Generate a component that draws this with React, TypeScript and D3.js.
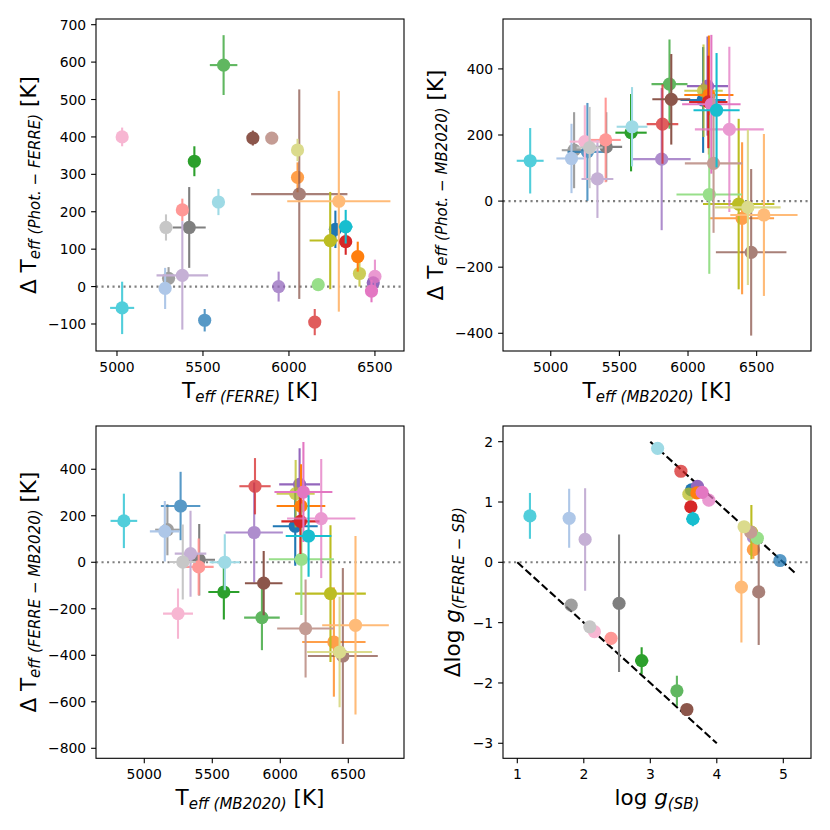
import React from 'react';
import * as d3 from 'd3';

// ---------- star styling (tab20 based) ----------
const starColors = [
  '#7f7f7f', '#17becf', '#1f77b4', '#aec7e8', '#2ca02c', '#9467bd', '#ff7f0e', '#8c564b', '#d62728', '#7f7f7f',
  '#ff9896', '#1f77b4', '#9467bd', '#bcbd22', '#ff7f0e', '#ffbb78', '#2ca02c', '#98df8a', '#d62728', '#e377c2',
  '#e377c2', '#c5b0d5', '#8c564b', '#c49c94', '#f7b6d2', '#c7c7c7', '#bcbd22', '#dbdb8d', '#17becf', '#9edae5',
];
const starAlpha = [
  0.75, 0.75, 0.75, 1, 0.75, 0.75, 0.75, 0.75, 0.75, 1,
  1, 1, 1, 0.75, 1, 1, 1, 1, 1, 1,
  0.75, 1, 1, 1, 1, 1, 1, 1, 1, 1,
];
const drawOrder = [0, 1, 2, 3, 4, 5, 6, 7, 8, 9, 10, 11, 26, 12, 13, 14, 15, 16, 17, 18, 19, 20, 21, 22, 23, 24, 25, 27, 28, 29];

// ---------- data ----------
const teffFerre = [5300, 5030, 5510, 5280, 5620, 5940, 6050, 6060, 6150, 5420, 5380, 6270, 6490, 6410, 6400, 6290, 5450, 6170, 6330, 6480, 6500, 5380, 5790, 5900, 5030, 5285, 6240, 6050, 6330, 5590];
const errTeffFerre = [8, 70, 8, 30, 80, 8, 30, 280, 8, 96, 8, 25, 15, 8, 8, 300, 8, 15, 8, 8, 15, 150, 8, 5, 5, 5, 120, 8, 40, 8];
const dPhotFerre = [22, -57, -90, -5, 592, 0, 292, 247, -95, 158, 205, 153, 10, 35, 80, 228, 335, 5, 120, -12, 27, 30, 397, 397, 400, 158, 123, 365, 160, 226];
const errDPhotFerre = [30, 70, 30, 55, 80, 40, 40, 280, 35, 108, 30, 50, 15, 35, 40, 295, 40, 15, 35, 30, 45, 145, 20, 5, 25, 35, 130, 30, 45, 35];

const teffMB = [5170, 4850, 5267, 5151, 5865, 5808, 6394, 6460, 5814, 5404, 5400, 6110, 6142, 6113, 6152, 6553, 5585, 6155, 6148, 6170, 6301, 5340, 5878, 6186, 5248, 5283, 6369, 6436, 6208, 5592];
const errTeffMB = [90, 98, 145, 110, 131, 211, 233, 257, 115, 116, 110, 165, 150, 140, 179, 245, 114, 239, 140, 213, 251, 116, 138, 209, 110, 95, 260, 239, 168, 112];
const dPhotMB = [154, 122, 149, 129, 354, 127, -52, -155, 233, 164, 185, 306, 348, 334, 321, -42, 207, 20, 300, 293, 217, 67, 308, 114, 180, 162, -9, -19, 275, 225];
const errDPhotMB = [115, 99, 148, 105, 135, 215, 230, 252, 120, 105, 128, 160, 150, 140, 180, 245, 117, 240, 140, 210, 250, 118, 137, 210, 110, 123, 258, 235, 173, 120];
const dFerreMB = [140, 178, 242, 133, -238, 128, -343, -403, 327, 11, -20, 155, 335, 295, 242, -271, -128, 13, 176, 302, 188, 37, -90, -285, -221, 1, -135, -386, 113, 0];
const errDFerreMB = [110, 117, 147, 130, 140, 215, 235, 378, 121, 154, 122, 170, 155, 145, 180, 384, 118, 240, 140, 215, 256, 185, 138, 211, 108, 161, 294, 238, 175, 120];

const loggSB = [1.81, 1.19, 4.95, 1.78, 3.40, 4.55, 4.55, 4.63, 3.46, 2.53, 2.41, 3.62, 3.71, 3.58, 3.70, 4.37, 2.87, 4.61, 3.61, 3.78, 3.88, 2.02, 3.55, 4.51, 2.16, 2.09, 4.52, 4.41, 3.64, 3.11];
const errLoggSB = [0.05, 0.03, 0.03, 0.03, 0.03, 0.03, 0.03, 0.03, 0.03, 0.05, 0.05, 0.03, 0.03, 0.03, 0.03, 0.03, 0.1, 0.03, 0.03, 0.03, 0.03, 0.03, 0.03, 0.03, 0.03, 0.03, 0.03, 0.03, 0.1, 0.03];
const dLogg = [-0.71, 0.77, 0.03, 0.73, -2.13, 0.42, 0.21, -0.49, 1.51, -0.68, -1.26, 1.20, 1.26, 1.13, 1.15, -0.41, -1.63, 0.40, 0.92, 1.16, 1.03, 0.38, -2.44, 0.50, -1.15, -1.07, 0.50, 0.59, 0.72, 1.89];
const errDLogg = [0.05, 0.38, 0.05, 0.49, 0.25, 0.05, 0.15, 0.88, 0.05, 1.14, 0.1, 0.05, 0.05, 0.05, 0.08, 0.92, 0.22, 0.05, 0.05, 0.05, 0.1, 0.85, 0.07, 0.05, 0.05, 0.05, 0.45, 0.05, 0.12, 0.05];

// ---------- axes ----------
const teffTicks = [5000, 5500, 6000, 6500];
const p1YTicks = [-100, 0, 100, 200, 300, 400, 500, 600, 700];
const p2YTicks = [-400, -200, 0, 200, 400];
const p3YTicks = [-800, -600, -400, -200, 0, 200, 400];
const p4XTicks = [1, 2, 3, 4, 5];
const p4YTicks = [-3, -2, -1, 0, 1, 2];
const p1XDom = [4878, 6669];
const p1YDom = [-172.2, 715.2];
const p2XDom = [4652, 6896];
const p2YDom = [-453.6, 551];
const p3XDom = [4645, 6909.6];
const p3YDom = [-843, 586];
const p4XDom = [0.785, 5.4165];
const p4YDom = [-3.249, 2.26];
// one-to-one reference lines in the logg panel (Δlog g = const − log g)
const refLines = [
  [[3.0, 2.0], [5.2, -0.2]],
  [[1.0, 0.0], [4.0, -3.0]],
];

const FONT = 'DejaVu Sans';
const LBL = 21.5;
const SUB = 15;
const TICK = 13.9;

type Box = { l: number; r: number; t: number; b: number };

function fmt(v: number) {
  return String(v).replace('-', '\u2212');
}

function Panel(props: {
  id: string;
  box: Box;
  xDom: number[];
  yDom: number[];
  xTicks: number[];
  yTicks: number[];
  xs: number[];
  xe: number[];
  ys: number[];
  ye: number[];
  xLabel: React.ReactNode;
  yLabel: React.ReactNode;
  ylx: number;
  xly: number;
  lines?: number[][][];
}) {
  const { id, box, xDom, yDom, xTicks, yTicks, xs, xe, ys, ye, xLabel, yLabel, ylx, xly, lines } = props;
  const x = d3.scaleLinear().domain(xDom).range([box.l, box.r]);
  const y = d3.scaleLinear().domain(yDom).range([box.b, box.t]);
  const lineGen = d3.line<number[]>().x((d) => x(d[0])).y((d) => y(d[1]));
  const cx = (box.l + box.r) / 2;
  const cy = (box.t + box.b) / 2;
  return (
    <g>
      <defs>
        <clipPath id={id}>
          <rect x={box.l} y={box.t} width={box.r - box.l} height={box.b - box.t} />
        </clipPath>
      </defs>
      <g clipPath={`url(#${id})`}>
        <line x1={box.l} x2={box.r} y1={y(0)} y2={y(0)} stroke="#808080" strokeWidth={2.1} strokeDasharray="2.1,3.4" />
        {(lines || []).map((seg, k) => (
          <path key={k} d={lineGen(seg) || ''} fill="none" stroke="#000" strokeWidth={2.1} strokeDasharray="7.7,3.3" />
        ))}
        {drawOrder.map((i) => (
          <g key={i} opacity={starAlpha[i]}>
            <line x1={x(xs[i] - xe[i])} x2={x(xs[i] + xe[i])} y1={y(ys[i])} y2={y(ys[i])} stroke={starColors[i]} strokeWidth={2.1} />
            <line x1={x(xs[i])} x2={x(xs[i])} y1={y(ys[i] - ye[i])} y2={y(ys[i] + ye[i])} stroke={starColors[i]} strokeWidth={2.1} />
            <circle cx={x(xs[i])} cy={y(ys[i])} r={6.6} fill={starColors[i]} />
          </g>
        ))}
      </g>
      <rect x={box.l} y={box.t} width={box.r - box.l} height={box.b - box.t} fill="none" stroke="#000" strokeWidth={1.1} />
      {xTicks.map((t) => (
        <g key={'x' + t}>
          <line x1={x(t)} x2={x(t)} y1={box.b} y2={box.b + 4.9} stroke="#000" strokeWidth={1.1} />
          <text x={x(t)} y={box.b + 20.5} textAnchor="middle" fontSize={TICK} fontFamily={FONT}>{fmt(t)}</text>
        </g>
      ))}
      {yTicks.map((t) => (
        <g key={'y' + t}>
          <line x1={box.l} x2={box.l - 4.9} y1={y(t)} y2={y(t)} stroke="#000" strokeWidth={1.1} />
          <text x={box.l - 9.8} y={y(t) + 5} textAnchor="end" fontSize={TICK} fontFamily={FONT}>{fmt(t)}</text>
        </g>
      ))}
      <text x={cx} y={xly} textAnchor="middle" fontSize={LBL} fontFamily={FONT}>{xLabel}</text>
      <text transform={`translate(${ylx},${cy}) rotate(-90)`} textAnchor="middle" fontSize={LBL} fontFamily={FONT}>{yLabel}</text>
    </g>
  );
}

function teffLabel(sub: string, delta: boolean) {
  return (
    <>
      <tspan>{delta ? '\u0394 T' : 'T'}</tspan>
      <tspan fontSize={SUB} fontStyle="italic" dy={4}>{sub}</tspan>
      <tspan dy={-4}>{' [K]'}</tspan>
    </>
  );
}

export default function App() {
  return (
    <svg width={830} height={830} style={{ position: 'absolute', left: 0, top: 0, background: '#fff' }}>
      <rect x={0} y={0} width={830} height={830} fill="#fff" />
      <Panel
        id="c1"
        box={{ l: 96, r: 404, t: 19, b: 351 }}
        xDom={p1XDom}
        yDom={p1YDom}
        xTicks={teffTicks}
        yTicks={p1YTicks}
        xs={teffFerre}
        xe={errTeffFerre}
        ys={dPhotFerre}
        ye={errDPhotFerre}
        xLabel={teffLabel('eff (FERRE)', false)}
        yLabel={teffLabel('eff (Phot. \u2212 FERRE)', true)}
        ylx={36}
        xly={398}
      />
      <Panel
        id="c2"
        box={{ l: 503, r: 811, t: 19, b: 351 }}
        xDom={p2XDom}
        yDom={p2YDom}
        xTicks={teffTicks}
        yTicks={p2YTicks}
        xs={teffMB}
        xe={errTeffMB}
        ys={dPhotMB}
        ye={errDPhotMB}
        xLabel={teffLabel('eff (MB2020)', false)}
        yLabel={teffLabel('eff (Phot. \u2212 MB2020)', true)}
        ylx={443}
        xly={398}
      />
      <Panel
        id="c3"
        box={{ l: 96, r: 404, t: 426, b: 758.3 }}
        xDom={p3XDom}
        yDom={p3YDom}
        xTicks={teffTicks}
        yTicks={p3YTicks}
        xs={teffMB}
        xe={errTeffMB}
        ys={dFerreMB}
        ye={errDFerreMB}
        xLabel={teffLabel('eff (MB2020)', false)}
        yLabel={teffLabel('eff (FERRE \u2212 MB2020)', true)}
        ylx={36}
        xly={805}
      />
      <Panel
        id="c4"
        box={{ l: 503, r: 811, t: 426, b: 758.3 }}
        xDom={p4XDom}
        yDom={p4YDom}
        xTicks={p4XTicks}
        yTicks={p4YTicks}
        xs={loggSB}
        xe={errLoggSB}
        ys={dLogg}
        ye={errDLogg}
        lines={refLines}
        xLabel={
          <>
            <tspan>{'log '}</tspan>
            <tspan fontStyle="italic">g</tspan>
            <tspan fontSize={SUB} fontStyle="italic" dy={4}>(SB)</tspan>
          </>
        }
        yLabel={
          <>
            <tspan>{'\u0394log '}</tspan>
            <tspan fontStyle="italic">g</tspan>
            <tspan fontSize={SUB} fontStyle="italic" dy={4}>{'(FERRE \u2212 SB)'}</tspan>
          </>
        }
        ylx={460}
        xly={805}
      />
    </svg>
  );
}
